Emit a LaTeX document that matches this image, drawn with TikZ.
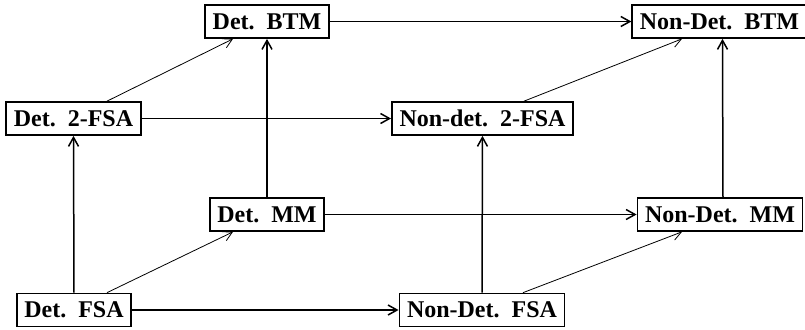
\documentclass[tikz,border=0pt]{standalone}
\usepackage{fontspec}
\setmainfont{Liberation Serif}
\usetikzlibrary{arrows.meta}
\begin{document}
\begin{tikzpicture}[x=0.5pt,y=-0.5pt,
  box/.style={draw,line width=0.85pt,font=\fontsize{12}{14}\selectfont\bfseries,inner xsep=3.8pt,inner ysep=0pt,minimum height=16.5pt},
  mainarrow/.style={-{Straight Barb[length=4.5pt,width=5pt]},line width=0.75pt},
  diagarrow/.style={-{Straight Barb[length=4.5pt,width=5pt]},line width=0.4pt}]
\useasboundingbox (0,0) rectangle (805,329);
\node[box] (dbtm) at (267,21.5) {Det.\ \ BTM};
\node[box] (nbtm) at (719.5,21.5) {Non-Det.\ \ BTM};
\node[box] (dtwo) at (73.5,118.5) {Det.\ \ 2-FSA};
\node[box] (ntwo) at (482.5,118.5) {Non-det.\ \ 2-FSA};
\node[box] (dmm) at (267,214.5) {Det.\ \ MM};
\node[box] (nmm) at (720,214.5) {Non-Det.\ \ MM};
\node[box] (dfsa) at (74,310) {Det.\ \ FSA};
\node[box] (nfsa) at (482,310) {Non-Det.\ \ FSA};
% horizontal
\draw[mainarrow] (dbtm) -- (nbtm);
\draw[mainarrow] (dtwo) -- (ntwo);
\draw[mainarrow] (dmm) -- (nmm);
\draw[mainarrow] (dfsa) -- (nfsa);
% vertical
\draw[mainarrow] (dfsa.north) -- (dtwo.south);
\draw[mainarrow] (dmm.north) -- (dbtm.south);
\draw[mainarrow] (nfsa.north) -- (ntwo.south);
\draw[mainarrow] ([xshift=1.5pt]nmm.north) -- ([xshift=1.5pt]nbtm.south);
% diagonal
\draw[diagarrow] ([xshift=16.75pt]dtwo.north) -- ([xshift=-17pt]dbtm.south);
\draw[diagarrow] ([xshift=16.5pt]dfsa.north) -- ([xshift=-17pt]dmm.south);
\draw[diagarrow] ([xshift=20.75pt]ntwo.north) -- ([xshift=-18.75pt]nbtm.south);
\draw[diagarrow] ([xshift=20.5pt]nfsa.north) -- ([xshift=-19pt]nmm.south);
\end{tikzpicture}
\end{document}
